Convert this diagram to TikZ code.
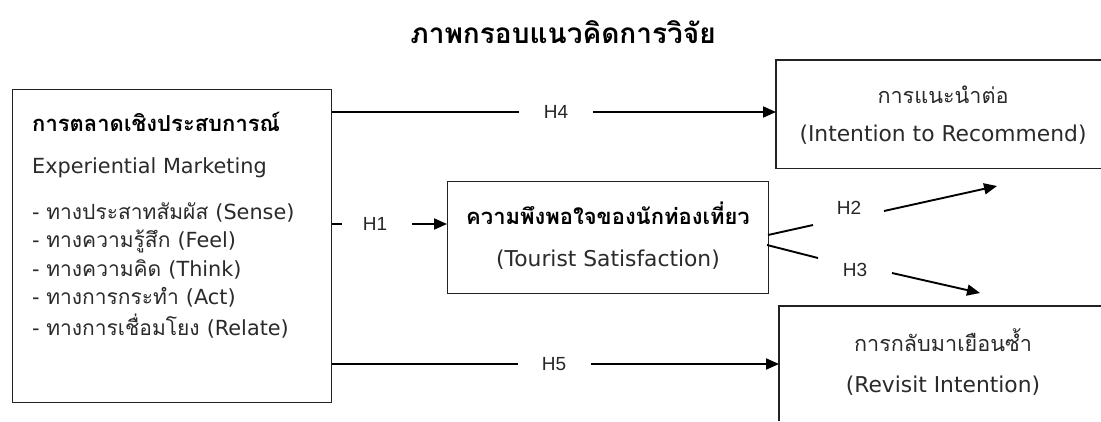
\documentclass[tikz,border=0pt]{standalone}
\usepackage{fontspec}
\usetikzlibrary{arrows.meta}
\newfontfamily\thai[Script=Thai]{Loma}
\newfontfamily\eng{DejaVu Sans}
\newfontfamily\arial{Liberation Sans}
\definecolor{ink}{HTML}{222222}
\definecolor{txt}{HTML}{2a2a2a}
\newcommand{\en}[1]{{\eng\fontsize{20.8}{24}\selectfont #1}}
\newcommand{\enr}[1]{{\eng\fontsize{21.8}{25}\selectfont #1}}
\tikzset{
  boxline/.style={draw=ink, line width=1.1pt},
  frame/.style={draw=none, minimum width=#1, inner sep=0pt, anchor=north west},
  conn/.style={line width=1.9pt, draw=black},
  arr/.style={conn, -{Triangle[length=13pt,width=11pt]}},
  hlab/.style={font=\arial\fontsize{19}{22}\selectfont, inner sep=0pt, text=black!85},
  btxt/.style={font=\thai\fontsize{21}{24}\selectfont, inner sep=0pt, text=txt},
  rtxt/.style={font=\thai\fontsize{21.6}{25}\selectfont, inner sep=0pt, text=txt},
  bbold/.style={font=\thai\bfseries\fontsize{22}{26}\selectfont, inner sep=0pt, text=black},
}
\begin{document}
\begin{tikzpicture}[x=1pt,y=-1pt]
\useasboundingbox[fill=white] (0,0) rectangle (1101,421);

% title
\node[font=\thai\bfseries\fontsize{28}{32}\selectfont, inner sep=0pt] (title) at (563,32) {ภาพกรอบแนวคิดการวิจัย};

% boxes
\node[frame=319pt, minimum height=313pt, boxline] (lb) at (12,89) {};
\node[frame=321pt, minimum height=112pt, boxline] (mb) at (447,181) {};
\node[frame=325pt, minimum height=108pt] (rt) at (776,60) {};
\node[frame=322pt, minimum height=115pt] (rb) at (779,306) {};
\draw[boxline] (rt.north east) -- (rt.north west) -- (rt.south west) -- (rt.south east);
\draw[boxline] (rb.north east) -- (rb.north west) -- (rb.south west);

% left box text
\node[bbold, anchor=west] (l1) at (32,122) {การตลาดเชิงประสบการณ์};
\node[btxt, anchor=west] (l2) at (32,168) {\en{Experiential Marketing}};
\node[btxt, anchor=west] (l3) at (32,212) {\en{- }ทางประสาทสัมผัส \en{(Sense)}};
\node[btxt, anchor=west] (l4) at (32,241) {\en{- }ทางความรู้สึก \en{(Feel)}};
\node[btxt, anchor=west] (l5) at (32,269) {\en{- }ทางความคิด \en{(Think)}};
\node[btxt, anchor=west] (l6) at (32,297) {\en{- }ทางการกระทำ \en{(Act)}};
\node[btxt, anchor=west] (l7) at (32,326) {\en{- }ทางการเชื่อมโยง \en{(Relate)}};

% middle box text
\node[bbold] (m1) at (608,213) {ความพึงพอใจของนักท่องเที่ยว};
\node[rtxt] (m2) at (608,260) {\enr{(Tourist Satisfaction)}};

% right boxes text
\node[rtxt] (r1) at (943,95) {การแนะนำต่อ};
\node[rtxt] (r2) at (943,135) {\enr{(Intention to Recommend)}};
\node[rtxt] (r3) at (943,340) {การกลับมาเยือนซ้ำ};
\node[rtxt] (r4) at (943,386) {\enr{(Revisit Intention)}};

% labels
\node[hlab] (h4) at (556,112) {H4};
\node[hlab] (h5) at (554,364) {H5};
\node[hlab] (h1) at (375,224) {H1};
\node[hlab] (h2) at (849,208) {H2};
\node[hlab] (h3) at (855,270) {H3};

% connector endpoints
\coordinate (h4a) at (519,112);
\coordinate (h4b) at (593,112);
\coordinate (h5a) at (518,364);
\coordinate (h5b) at (591,364);
\coordinate (h1a) at (342,224);
\coordinate (h1b) at (412,224);
\coordinate (h2s) at (768,235);
\coordinate (h2a) at (813,225);
\coordinate (h2b) at (884,211);
\coordinate (h2e) at (997,186);
\coordinate (h3s) at (767,245);
\coordinate (h3a) at (818,258);
\coordinate (h3b) at (892,273);
\coordinate (h3e) at (980,293);

\draw[conn] (lb.east |- h4a) -- (h4a);
\draw[arr] (h4b) -- (rt.west |- h4b);
\draw[conn] (lb.east |- h5a) -- (h5a);
\draw[arr] (h5b) -- (rb.west |- h5b);
\draw[conn] (lb.east |- h1a) -- (h1a);
\draw[arr] (h1b) -- (mb.west |- h1b);
\draw[conn] (h2s) -- (h2a);
\draw[arr] (h2b) -- (h2e);
\draw[conn] (h3s) -- (h3a);
\draw[arr] (h3b) -- (h3e);
\end{tikzpicture}
\end{document}
